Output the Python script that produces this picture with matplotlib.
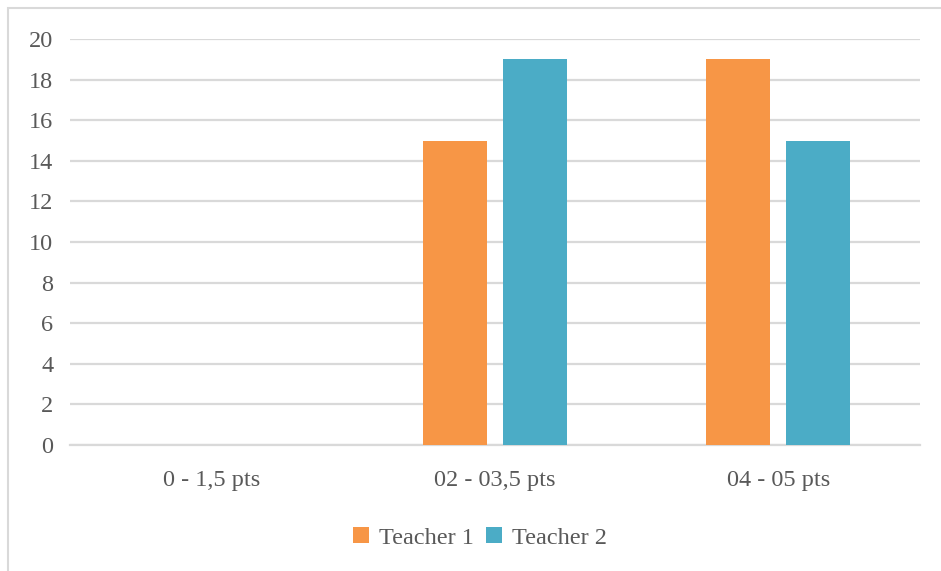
import numpy as np
import matplotlib.pyplot as plt
from matplotlib.patches import Rectangle

categories = ["0 - 1,5 pts", "02 - 03,5 pts", "04 - 05 pts"]
teacher1 = [0, 15, 19]
teacher2 = [0, 19, 15]
series_names = ["Teacher 1", "Teacher 2"]

orange = "#F79646"
teal = "#4BACC6"
text_col = "#595959"
grid_col = "#D9D9D9"

plt.rcParams["font.family"] = ["Liberation Serif", "DejaVu Serif"]

fig = plt.figure(figsize=(9.41, 5.71), dpi=100)
ax = fig.add_axes([70 / 941, 1 - 445 / 571, 850 / 941, 406 / 571])

x = np.arange(len(categories))
w = 0.226
off = 0.141
ax.bar(x - off, teacher1, w, color=orange, label=series_names[0], zorder=3)
ax.bar(x + off, teacher2, w, color=teal, label=series_names[1], zorder=3)

ax.set_xlim(-0.5, 2.5)
ax.set_ylim(0, 20)
ax.set_yticks(np.arange(0, 21, 2))
ax.set_xticks(x)
ax.set_xticklabels(categories)
ax.yaxis.grid(True, color=grid_col, linewidth=1.6, zorder=0)
for s in ["top", "right", "left"]:
    ax.spines[s].set_visible(False)
ax.spines["bottom"].set_color(grid_col)
ax.spines["bottom"].set_linewidth(1.6)
ax.tick_params(axis="both", length=0, labelsize=17.5, colors=text_col)
ax.tick_params(axis="y", pad=12)
ax.tick_params(axis="x", pad=18)

fig.legend(loc="center", bbox_to_anchor=(480 / 941, 1 - 538 / 571), ncol=2,
           frameon=False, fontsize=17.5, labelcolor=text_col,
           handlelength=0.65, handleheight=0.65, handletextpad=0.4,
           columnspacing=0.5)

# light frame around the chart area
fig.patches.append(Rectangle((8 / 941, -0.1), 1.2, 1 - 8 / 571 + 0.1,
                             transform=fig.transFigure, fill=False,
                             edgecolor=grid_col, linewidth=1.5))

fig.savefig("out.png", dpi=100)
